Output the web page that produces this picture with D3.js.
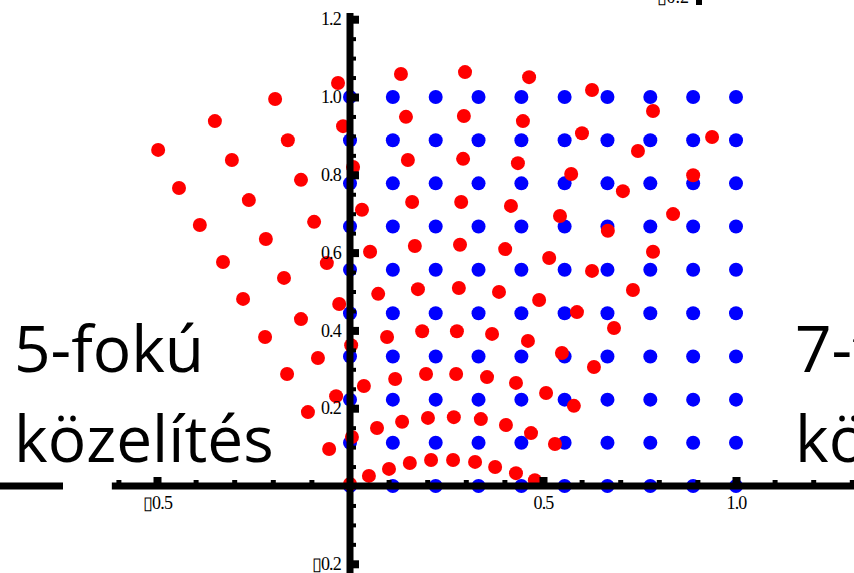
<!DOCTYPE html>
<html lang="en">
<head>
<meta charset="UTF-8">
<script src="https://cdn.jsdelivr.net/npm/d3@7"></script>
<style>
  body { margin: 0; background: white; }
  svg { display: block; }
  .tick text { font-family: "Liberation Serif", serif; font-size: 18px; letter-spacing: -0.8px; fill: black; }
  .big { font-family: "Open Sans", sans-serif; font-size: 64px; fill: black; }
</style>
</head>
<body>
<script>
// blue grid levels (same for x and y)
const gridLevels = [0, 0.111, 0.222, 0.333, 0.444, 0.556, 0.667, 0.778, 0.889, 1.0];

// red points, one row per grid row (bottom row first)
const redX = [
  [0.000, 0.049, 0.101, 0.155, 0.210, 0.267, 0.324, 0.376, 0.430, 0.479],
  [-0.054, 0.005, 0.070, 0.135, 0.202, 0.269, 0.339, 0.404, 0.469, 0.531],
  [-0.109, -0.036, 0.036, 0.117, 0.197, 0.275, 0.355, 0.430, 0.508, 0.580],
  [-0.163, -0.083, 0.003, 0.096, 0.187, 0.277, 0.368, 0.461, 0.549, 0.632],
  [-0.220, -0.127, -0.028, 0.073, 0.176, 0.282, 0.386, 0.490, 0.588, 0.684],
  [-0.277, -0.171, -0.060, 0.052, 0.168, 0.285, 0.402, 0.516, 0.627, 0.733],
  [-0.329, -0.218, -0.093, 0.031, 0.161, 0.288, 0.417, 0.544, 0.668, 0.785],
  [-0.389, -0.262, -0.127, 0.008, 0.150, 0.293, 0.435, 0.573, 0.707, 0.837],
  [-0.443, -0.306, -0.161, -0.018, 0.145, 0.295, 0.448, 0.601, 0.746, 0.889],
  [-0.497, -0.350, -0.194, -0.031, 0.132, 0.298, 0.464, 0.627, 0.785, 0.938]
];
const redY = [
  [0.005, 0.026, 0.044, 0.059, 0.067, 0.067, 0.062, 0.049, 0.033, 0.015],
  [0.095, 0.126, 0.149, 0.165, 0.175, 0.177, 0.172, 0.157, 0.136, 0.108],
  [0.190, 0.231, 0.257, 0.275, 0.288, 0.288, 0.280, 0.265, 0.239, 0.206],
  [0.288, 0.329, 0.362, 0.383, 0.398, 0.398, 0.391, 0.373, 0.342, 0.306],
  [0.383, 0.429, 0.468, 0.494, 0.506, 0.509, 0.499, 0.478, 0.447, 0.406],
  [0.481, 0.535, 0.573, 0.602, 0.617, 0.620, 0.609, 0.586, 0.553, 0.504],
  [0.576, 0.635, 0.679, 0.710, 0.730, 0.730, 0.720, 0.694, 0.656, 0.602],
  [0.671, 0.735, 0.787, 0.820, 0.838, 0.841, 0.830, 0.802, 0.758, 0.699],
  [0.766, 0.838, 0.889, 0.925, 0.949, 0.951, 0.938, 0.907, 0.861, 0.799],
  [0.864, 0.938, 0.995, 1.036, 1.059, 1.064, 1.051, 1.018, 0.964, 0.897]
];

const xMajor = [-0.5, 0.5, 1.0];
const xMinor = [-0.6, -0.4, -0.3, -0.2, -0.1, 0.1, 0.2, 0.3, 0.4, 0.6, 0.7, 0.8, 0.9, 1.1, 1.2, 1.3];
const yMajor = [-0.2, 0.2, 0.4, 0.6, 0.8, 1.0, 1.2];
const yMinor = [-0.15, -0.1, -0.05, 0.05, 0.1, 0.15, 0.25, 0.3, 0.35, 0.45, 0.5, 0.55,
                0.65, 0.7, 0.75, 0.85, 0.9, 0.95, 1.05, 1.1, 1.15];

const W = 854, H = 573;
const svg = d3.select("body").append("svg").attr("width", W).attr("height", H);

const x = d3.scaleLinear().domain([0, 1]).range([350, 736]);
const y = d3.scaleLinear().domain([0, 1]).range([486, 97]);

// the original's minus sign shows as a missing-glyph box
const fmt = d => (d < 0 ? "\u25AF" : "") + d3.format(".1f")(Math.abs(d));

// points
const bluePts = gridLevels.flatMap(gy => gridLevels.map(gx => [gx, gy]));
const redPts = redX.flatMap((row, j) => row.map((v, i) => [v, redY[j][i]]));

svg.append("g").selectAll("circle")
  .data(bluePts).enter().append("circle")
  .attr("cx", d => x(d[0])).attr("cy", d => y(d[1])).attr("r", 7)
  .attr("fill", "#0000ff");

svg.append("g").selectAll("circle")
  .data(redPts).enter().append("circle")
  .attr("cx", d => x(d[0])).attr("cy", d => y(d[1])).attr("r", 7)
  .attr("fill", "#ff0000");

// axes (thick lines)
svg.append("line")
  .attr("x1", x(-0.617)).attr("x2", W).attr("y1", y(0)).attr("y2", y(0))
  .attr("stroke", "black").attr("stroke-width", 7);
svg.append("line")
  .attr("x1", x(0)).attr("x2", x(0)).attr("y1", y(1.216)).attr("y2", H)
  .attr("stroke", "black").attr("stroke-width", 7);

// neighbouring plot's axis end on the left
svg.append("line")
  .attr("x1", 0).attr("x2", 63).attr("y1", y(0)).attr("y2", y(0))
  .attr("stroke", "black").attr("stroke-width", 7);

const styleAxis = (g, w) => {
  g.select(".domain").remove();
  g.selectAll(".tick line").attr("stroke", "black").attr("stroke-width", w);
};

// x axis ticks
svg.append("g").attr("transform", `translate(0,${y(0)})`)
  .call(d3.axisBottom(x).tickValues(xMajor).tickFormat(fmt)
    .tickSizeInner(-9).tickSizeOuter(0).tickPadding(10))
  .call(g => styleAxis(g, 8));
svg.append("g").attr("transform", `translate(0,${y(0)})`)
  .call(d3.axisBottom(x).tickValues(xMinor).tickFormat("")
    .tickSizeInner(-6).tickSizeOuter(0))
  .call(g => styleAxis(g, 5));

// y axis ticks
svg.append("g").attr("transform", `translate(${x(0)},0)`)
  .call(d3.axisLeft(y).tickValues(yMajor).tickFormat(fmt)
    .tickSizeInner(-9).tickSizeOuter(0).tickPadding(9))
  .call(g => styleAxis(g, 8));
svg.append("g").attr("transform", `translate(${x(0)},0)`)
  .call(d3.axisLeft(y).tickValues(yMinor).tickFormat("")
    .tickSizeInner(-6).tickSizeOuter(0))
  .call(g => styleAxis(g, 4));

// fragment of the plot above (top right)
svg.append("text").attr("x", 689).attr("y", 3).attr("text-anchor", "end")
  .style("font-family", "Liberation Serif, serif").style("font-size", "18px")
  .text("\u25AF0.2");
svg.append("rect").attr("x", 696).attr("y", 0).attr("width", 6).attr("height", 5).attr("fill", "black");

// captions
svg.append("text").attr("class", "big").attr("x", 14).attr("y", 372).text("5-fokú");
svg.append("text").attr("class", "big").attr("x", 14).attr("y", 462).text("közelítés");
svg.append("text").attr("class", "big").attr("x", 795).attr("y", 372).text("7-fokú");
svg.append("text").attr("class", "big").attr("x", 795).attr("y", 462).text("közelítés");
</script>
</body>
</html>
